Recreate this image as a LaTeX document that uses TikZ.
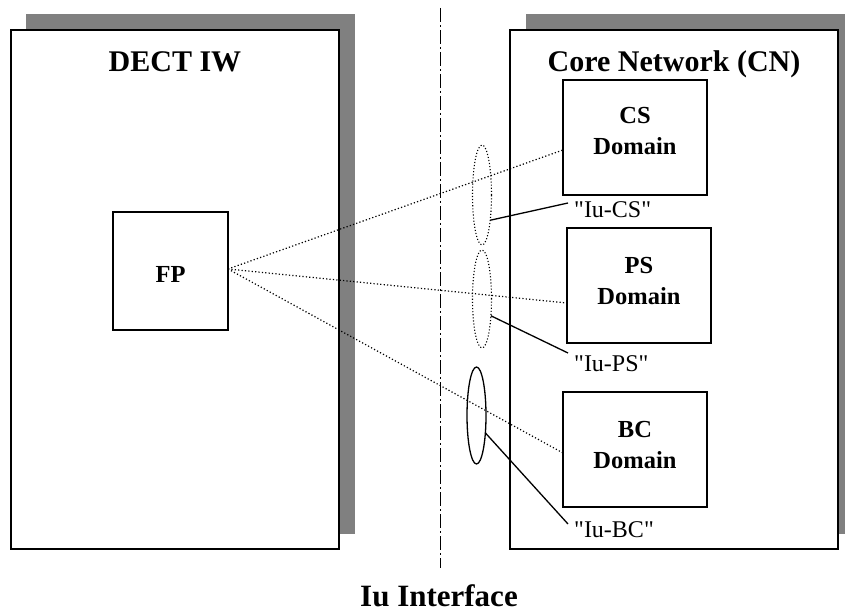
\documentclass[tikz,border=0pt]{standalone}
\usepackage{fontspec}
\setmainfont{Liberation Serif}
\newfontfamily\labelfont{Liberation Serif}
\usetikzlibrary{shapes.geometric}
\definecolor{shadowgray}{RGB}{128,128,128}
\begin{document}
\begin{tikzpicture}[x=1pt,y=-1pt,
  bigbox/.style={draw, line width=1.5pt, fill=white, inner sep=0pt, outer sep=0pt},
  domainbox/.style={draw, line width=1.3pt, fill=white, inner sep=0pt, outer sep=0pt, minimum width=144pt, minimum height=115pt},
  fpbox/.style={draw, line width=1.3pt, fill=white, inner sep=0pt, outer sep=0pt, minimum width=115pt, minimum height=118pt},
  titletext/.style={font=\fontsize{30}{36}\selectfont\bfseries, inner sep=0pt, anchor=base},
  boxtext/.style={font=\fontsize{24.5}{31}\selectfont\bfseries, inner sep=0pt, anchor=base},
  iutext/.style={font=\labelfont\fontsize{24}{28}\selectfont, inner sep=0pt, anchor=base west},
  ring/.style={ellipse, draw, line width=1pt, inner sep=0pt, outer sep=0pt, minimum width=19pt},
  dottedring/.style={ring, line width=1.1pt, dash pattern=on 1.1pt off 2pt},
  dotline/.style={line width=1.2pt, dash pattern=on 1.2pt off 2.2pt},
  leader/.style={line width=1.3pt},
  dashdot/.style={line width=1pt, dash pattern=on 14pt off 3pt on 2pt off 3pt}
]
\useasboundingbox (0,0) rectangle (845,612);
\clip (0,0) rectangle (845,612);

% shadows
\fill[shadowgray] (26,14) rectangle (355,534);
\fill[shadowgray] (526,14) rectangle (854,534);

% main boxes
\node[bigbox, minimum width=328pt, minimum height=519pt] (dect) at (175,289.5) {};
\node[bigbox, minimum width=328pt, minimum height=519pt] (cn) at (674,289.5) {};

\node[titletext] (dectlbl) at (175,72) {DECT IW};
\node[titletext] (cnlbl) at (674,72) {Core Network (CN)};

% interface line
\coordinate (iutop) at (440,8);
\coordinate (iubot) at (440,568);
\draw[dashdot] (iutop) -- (iubot);
\node[font=\fontsize{31}{36}\selectfont\bfseries, inner sep=0pt, anchor=base] (iulbl) at (439,606) {Iu Interface};

% FP
\node[fpbox] (fp) at (170.5,271) {};
\node[boxtext] (fplbl) at (170.5,282) {FP};

% domains
\node[domainbox] (cs) at (635,137.5) {};
\node[boxtext] (cslbl1) at (635,124) {CS};
\node[boxtext] (cslbl2) at (635,155) {Domain};

\node[domainbox] (ps) at (639,285.5) {};
\node[boxtext] (pslbl1) at (639,273) {PS};
\node[boxtext] (pslbl2) at (639,304) {Domain};

\node[domainbox] (bc) at (635,449.5) {};
\node[boxtext] (bclbl1) at (635,437) {BC};
\node[boxtext] (bclbl2) at (635,468) {Domain};

% dotted connections
\coordinate (fpout) at (228,269);
\draw[dotline] (fpout) -- ([yshift=-12.5pt]cs.west);
\draw[dotline] (fpout) -- ([yshift=-17.5pt]ps.west);
\draw[dotline] (fpout) -- ([yshift=-3.5pt]bc.west);

% rings
\node[dottedring, minimum height=100pt] (e1) at (482,195) {};
\node[dottedring, minimum height=98pt] (e2) at (482,299) {};
\node[ring, line width=1.3pt, minimum height=97pt] (e3) at (476.5,415.5) {};

% leaders and labels
\coordinate (csend) at (568,203);
\coordinate (psend) at (568,353);
\coordinate (bcend) at (568,524);
\draw[leader] (e1.-72) -- (csend);
\draw[leader] (e2.-62) -- (psend);
\draw[leader] (e3.-63) -- (bcend);
\node[iutext] (iucs) at (574,218) {"Iu-CS"};
\node[iutext] (iups) at (574,371) {"Iu-PS"};
\node[iutext] (iubc) at (574,537) {"Iu-BC"};
\end{tikzpicture}
\end{document}
